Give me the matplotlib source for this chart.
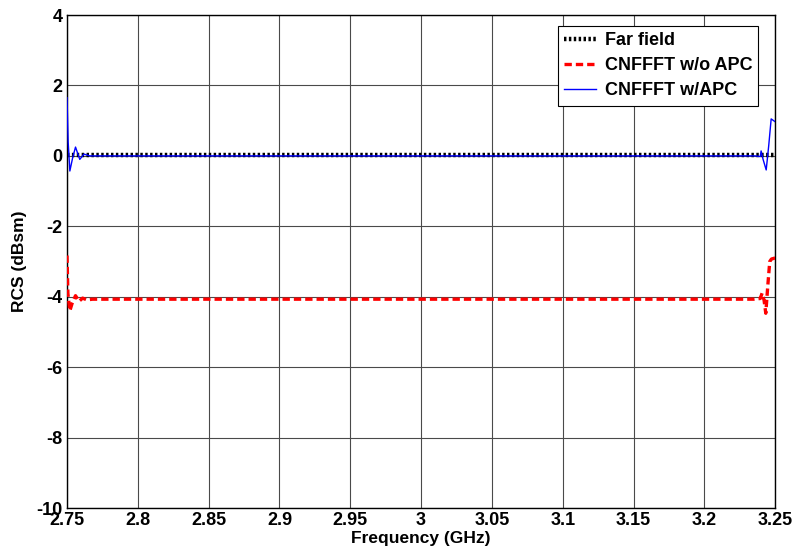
import matplotlib
matplotlib.use("Agg")
import matplotlib.pyplot as plt

# Far field reference (flat)
ff_freq = [2.75, 3.25]
ff_rcs = [0.02, 0.02]

# CNFFFT w/o APC
red_freq = [2.75, 2.7506, 2.752, 2.7535, 2.756, 2.7585, 2.761, 2.764, 2.768,
            3.235, 3.2395, 3.2408, 3.2422, 3.2434, 3.2448, 3.2462, 3.2474, 3.25]
red_rcs = [-2.83, -3.9, -4.4, -4.2, -3.97, -4.13, -4.04, -4.09, -4.07,
           -4.07, -4.05, -3.9, -4.1, -4.47, -3.7, -3.0, -2.93, -2.9]

# CNFFFT w/APC
blue_freq = [2.75, 2.7508, 2.752, 2.754, 2.756, 2.759, 2.762, 2.766,
             3.236, 3.2395, 3.2401, 3.2415, 3.2437, 3.2455, 3.2472, 3.25]
blue_rcs = [1.65, 0.4, -0.43, -0.05, 0.25, -0.1, 0.05, 0.0,
            0.0, -0.02, 0.14, -0.1, -0.4, 0.3, 1.05, 0.97]

xticks = [2.75, 2.8, 2.85, 2.9, 2.95, 3.0, 3.05, 3.1, 3.15, 3.2, 3.25]
xticklabels = ['2.75', '2.8', '2.85', '2.9', '2.95', '3', '3.05', '3.1', '3.15', '3.2', '3.25']
yticks = [-10, -8, -6, -4, -2, 0, 2, 4]
yticklabels = ['-10', '-8', '-6', '-4', '-2', '0', '2', '4']

plt.rcParams['font.family'] = ['Liberation Sans', 'DejaVu Sans']
plt.rcParams['font.weight'] = 'bold'

fig = plt.figure(figsize=(7.95, 5.52), dpi=100)
ax = fig.add_axes([0.0843, 0.0797, 0.8907, 0.8931])

ax.plot(ff_freq, ff_rcs, color='black', linestyle=(0, (0.55, 0.55)), lw=3.2, label='Far field', zorder=3)
ax.plot(red_freq, red_rcs, color='red', linestyle=(0, (2.2, 1.2)), lw=2.4, label='CNFFFT w/o APC', zorder=4)
ax.plot(blue_freq, blue_rcs, color='blue', linestyle='-', lw=1.0, label='CNFFFT w/APC', zorder=5)

ax.set_xlim(2.75, 3.25)
ax.set_ylim(-10, 4)
ax.set_xticks(xticks)
ax.set_xticklabels(xticklabels, fontsize=13, fontweight='bold')
ax.set_yticks(yticks)
ax.set_yticklabels(yticklabels, fontsize=13, fontweight='bold')
ax.tick_params(direction='in', length=0, pad=3)
ax.tick_params(axis='x', pad=3)
ax.grid(True, color='#4a4a4a', lw=0.8, linestyle='-')
ax.set_axisbelow(True)
for s in ax.spines.values():
    s.set_linewidth(1.0)
    s.set_color('black')

ax.set_xlabel('Frequency (GHz)', fontsize=12.5, fontweight='bold', labelpad=1)
ax.set_ylabel('RCS (dBsm)', fontsize=12.5, fontweight='bold', labelpad=7)

leg = ax.legend(loc='upper right', bbox_to_anchor=(0.9765, 0.9785),
                prop={'weight': 'bold', 'size': 13}, frameon=True, fancybox=False,
                edgecolor='black', framealpha=1, borderpad=0.35, labelspacing=0.45,
                handlelength=1.8, handletextpad=0.45, borderaxespad=0.0)
leg.get_frame().set_linewidth(0.8)

fig.savefig('out.png', dpi=100)
